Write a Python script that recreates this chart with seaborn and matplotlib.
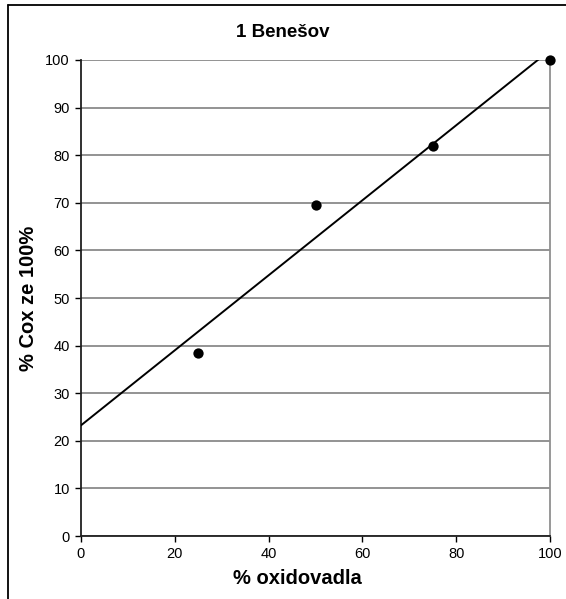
import numpy as np
import pandas as pd
import matplotlib
matplotlib.use("Agg")
import matplotlib.pyplot as plt
from matplotlib.lines import Line2D
import seaborn as sns

# Measured values
oxidant_pct = [25, 50, 75, 100]
cox_pct = [38.5, 69.5, 82.0, 100.0]
x_ticks = [0, 20, 40, 60, 80, 100]
y_ticks = [0, 10, 20, 30, 40, 50, 60, 70, 80, 90, 100]

df = pd.DataFrame({"oxidovadla": oxidant_pct, "cox": cox_pct})

sns.set_theme(style="white")
plt.rcParams["font.family"] = ["Liberation Sans", "DejaVu Sans"]
plt.rcParams["text.color"] = "black"
plt.rcParams["xtick.color"] = "black"
plt.rcParams["ytick.color"] = "black"

fig = plt.figure(figsize=(5.66, 5.99), dpi=100)
ax = fig.add_axes([0.143, 0.105, 0.829, 0.795])

# Least-squares trend line over the full x range
slope, intercept = np.polyfit(df["oxidovadla"], df["cox"], 1)
xs = np.array([0.0, 100.0])
ax.plot(xs, intercept + slope * xs, color="black", lw=1.4, zorder=3)

sns.scatterplot(data=df, x="oxidovadla", y="cox", ax=ax, color="black",
                s=55, edgecolor="black", linewidth=0, zorder=4, clip_on=False)

ax.set_xlim(0, 100)
ax.set_ylim(0, 100)
ax.set_xticks(x_ticks)
ax.set_yticks(y_ticks)
ax.tick_params(axis="both", labelsize=10.5, length=4, width=1, color="black",
               labelcolor="black", direction="out", pad=4, left=True, bottom=True)
ax.grid(axis="y", color="#808080", lw=1.2)
ax.grid(axis="x", visible=False)
ax.set_axisbelow(True)

for side in ["left", "bottom"]:
    ax.spines[side].set_color("#202020")
    ax.spines[side].set_linewidth(1.3)
ax.spines["right"].set_color("#909090")
ax.spines["right"].set_linewidth(1.3)
ax.spines["top"].set_visible(False)

ax.set_xlabel("")
ax.set_ylabel("")
fig.text(0.525, 0.035, "% oxidovadla", ha="center", va="center",
         fontsize=14.5, fontweight="bold", color="black")
fig.text(0.05, 0.502, "% Cox ze 100%", ha="center", va="center",
         fontsize=14.5, fontweight="bold", rotation=90, color="black")
fig.text(0.5, 0.945, "1 Benešov", ha="center", va="center",
         fontsize=13.5, fontweight="bold", color="black")

# Chart frame edges
fig.add_artist(Line2D([0.014, 0.014], [0.0, 0.992], transform=fig.transFigure,
                      color="black", lw=1.3))
fig.add_artist(Line2D([0.014, 1.0], [0.992, 0.992], transform=fig.transFigure,
                      color="black", lw=1.3))

fig.savefig("out.png", dpi=100, facecolor="white")
